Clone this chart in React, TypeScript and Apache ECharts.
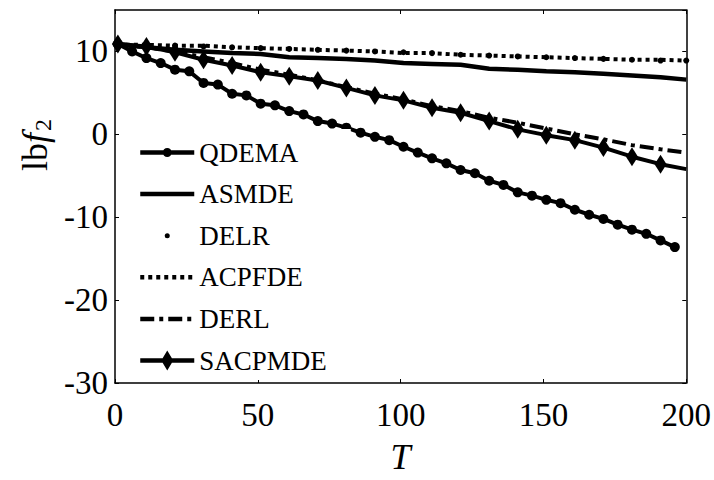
import React, { useEffect, useRef } from "react";
import * as echarts from "echarts";

const T_LINE = [1, 11, 21, 31, 41, 51, 61, 71, 81, 91, 101, 111, 121, 131, 141, 151, 161, 171, 181, 191, 200];
const T_QDEMA = [1, 6, 11, 16, 21, 26, 31, 36, 41, 46, 51, 56, 61, 66, 71, 76, 81, 86, 91, 96, 101, 106, 111, 116, 121, 126, 131, 136, 141, 146, 151, 156, 161, 166, 171, 176, 181, 186, 191, 196];

const QDEMA = [10.9, 10.0, 9.2, 8.6, 7.8, 7.6, 6.2, 6.0, 4.9, 4.7, 3.7, 3.5, 2.8, 2.4, 1.6, 1.3, 0.8, 0.2, -0.3, -0.7, -1.5, -2.2, -2.9, -3.5, -4.3, -4.7, -5.6, -6.1, -7.0, -7.4, -7.9, -8.3, -9.1, -9.7, -10.2, -10.9, -11.5, -12.0, -12.8, -13.6];
const ASMDE = [10.9, 10.5, 10.2, 10.0, 9.8, 9.7, 9.3, 9.2, 9.1, 8.9, 8.6, 8.5, 8.4, 7.9, 7.8, 7.6, 7.5, 7.3, 7.1, 6.9, 6.6];
const DELR = [10.9, 10.8, 10.7, 10.6, 10.5, 10.4, 10.3, 10.2, 10.1, 10.0, 9.9, 9.8, 9.6, 9.5, 9.4, 9.3, 9.2, 9.1, 9.0, 8.9, 8.9];
const ACPFDE = [10.8, 10.8, 10.7, 10.7, 10.5, 10.4, 10.3, 10.2, 10.1, 10.0, 9.8, 9.8, 9.6, 9.5, 9.4, 9.3, 9.2, 9.1, 9.0, 9.0, 8.9];
const DERL = [10.8, 10.5, 10.0, 9.3, 8.6, 7.8, 7.2, 6.5, 5.7, 4.9, 4.2, 3.4, 2.8, 2.0, 1.4, 0.7, 0.0, -0.6, -1.3, -1.8, -2.2];
const SACPMDE = [10.9, 10.6, 9.9, 9.0, 8.3, 7.5, 7.0, 6.5, 5.6, 4.7, 4.1, 3.2, 2.6, 1.6, 0.6, -0.1, -0.7, -1.6, -2.7, -3.6, -4.2];

const NAMES = ["QDEMA", "ASMDE", "DELR", "ACPFDE", "DERL", "SACPMDE"];

const FONT = "Liberation Serif";

// legend icons (line + marker) drawn as one path, 54 x 20 box
const ICON_QDEMA = "path://M0 7.75H54V12.25H0Z M22.5 10A4.5 4.5 0 1 1 31.5 10A4.5 4.5 0 1 1 22.5 10Z";
const ICON_SACP = "path://M0 0M54 20M0 7.75H54V12.25H0Z M27 0L33 10L27 20L21 10Z";
const ICON_DELR = "path://M0 0M54 20M24.5 10A2.5 2.5 0 1 1 29.5 10A2.5 2.5 0 1 1 24.5 10Z";

const pairs = (xs: number[], ys: number[]) => ys.map((v, i) => [xs[i], v]);

export default function App() {
  const ref = useRef<HTMLDivElement>(null);
  useEffect(() => {
    if (!ref.current) return;
    const chart = echarts.init(ref.current, null, { renderer: "svg" });
    const axisLine = { show: true, onZero: false, lineStyle: { color: "#000", width: 1.5 } };
    const tick = { show: true, inside: true, length: 4, lineStyle: { color: "#000", width: 1 } };
    const sacp = SACPMDE.map((v, i) =>
      i === SACPMDE.length - 1 ? { value: [T_LINE[i], v], symbol: "none" } : [T_LINE[i], v]
    );
    const lt = { fontFamily: FONT, fontSize: 27, color: "#000" };
    const legendData = NAMES.map((n) => {
      if (n === "QDEMA") return { name: n, icon: ICON_QDEMA, itemStyle: { color: "#000", borderWidth: 0 }, textStyle: lt };
      if (n === "SACPMDE") return { name: n, icon: ICON_SACP, itemStyle: { color: "#000", borderWidth: 0 }, textStyle: lt };
      if (n === "DELR") return { name: n, icon: ICON_DELR, itemStyle: { color: "#000", borderWidth: 0 }, textStyle: lt };
      return { name: n, itemStyle: { opacity: 0 }, lineStyle: { width: 4.5 }, textStyle: lt };
    });
    chart.setOption({
      animation: false,
      backgroundColor: "#fff",
      textStyle: { fontFamily: FONT, color: "#000" },
      grid: { left: 115, right: 27, top: 10, bottom: 83, containLabel: false },
      legend: {
        orient: "vertical",
        left: 128,
        top: 129,
        itemWidth: 54,
        itemHeight: 20,
        itemGap: 14.6,
        padding: [10, 24, 6, 10],
        backgroundColor: "#fff",
        textStyle: lt,
        data: legendData,
      },
      xAxis: [
        {
          type: "value",
          min: 0,
          max: 200,
          interval: 50,
          name: "T",
          nameLocation: "middle",
          nameGap: 56,
          nameTextStyle: { fontFamily: FONT, fontSize: 36, fontStyle: "italic", color: "#000" },
          axisLine,
          axisTick: tick,
          splitLine: { show: false },
          axisLabel: { fontFamily: FONT, fontSize: 33, color: "#000", margin: 15 },
        },
        {
          type: "value",
          position: "top",
          min: 0,
          max: 200,
          interval: 50,
          axisLine,
          axisTick: tick,
          splitLine: { show: false },
          axisLabel: { show: false },
        },
      ],
      yAxis: [
        {
          type: "value",
          min: -30,
          max: 15,
          interval: 10,
          axisLine,
          axisTick: tick,
          splitLine: { show: false },
          axisLabel: { fontFamily: FONT, fontSize: 33, color: "#000", margin: 7, showMaxLabel: false },
        },
        {
          type: "value",
          position: "right",
          min: -30,
          max: 15,
          interval: 10,
          axisLine,
          axisTick: tick,
          splitLine: { show: false },
          axisLabel: { show: false },
        },
      ],
      graphic: [
        {
          type: "text",
          x: 35,
          y: 145,
          rotation: Math.PI / 2,
          style: {
            text: "{a|lb}{b|f}{c|2}",
            align: "center",
            verticalAlign: "middle",
            rich: {
              a: { fontFamily: FONT, fontSize: 36, fill: "#000" },
              b: { fontFamily: FONT, fontSize: 36, fontStyle: "italic", fill: "#000" },
              c: { fontFamily: FONT, fontSize: 24, fill: "#000", padding: [16, 0, 0, 2] },
            },
          },
        },
      ],
      series: [
        {
          name: "QDEMA",
          type: "line",
          data: pairs(T_QDEMA, QDEMA),
          symbol: "circle",
          symbolSize: 10,
          showAllSymbol: true,
          color: "#000",
          lineStyle: { color: "#000", width: 4 },
          itemStyle: { color: "#000" },
        },
        {
          name: "ASMDE",
          type: "line",
          data: pairs(T_LINE, ASMDE),
          symbol: "none",
          color: "#000",
          lineStyle: { color: "#000", width: 4.5 },
        },
        {
          name: "DELR",
          type: "line",
          data: pairs(T_LINE, DELR),
          symbol: "circle",
          symbolSize: 6,
          showAllSymbol: true,
          color: "#000",
          lineStyle: { color: "#000", width: 0, opacity: 0 },
          itemStyle: { color: "#000" },
        },
        {
          name: "ACPFDE",
          type: "line",
          data: pairs(T_LINE, ACPFDE),
          symbol: "none",
          color: "#000",
          lineStyle: { color: "#000", width: 4, type: [4, 4], cap: "butt" },
        },
        {
          name: "DERL",
          type: "line",
          data: pairs(T_LINE, DERL),
          symbol: "none",
          color: "#000",
          lineStyle: { color: "#000", width: 4, type: [14, 5, 4, 5], cap: "butt" },
        },
        {
          name: "SACPMDE",
          type: "line",
          data: sacp,
          symbol: "diamond",
          symbolSize: [12, 19],
          showAllSymbol: true,
          color: "#000",
          lineStyle: { color: "#000", width: 4 },
          itemStyle: { color: "#000" },
        },
      ],
    });
    return () => chart.dispose();
  }, []);
  return <div ref={ref} style={{ width: 714, height: 480, position: "absolute", left: 0, top: 0 }} />;
}
